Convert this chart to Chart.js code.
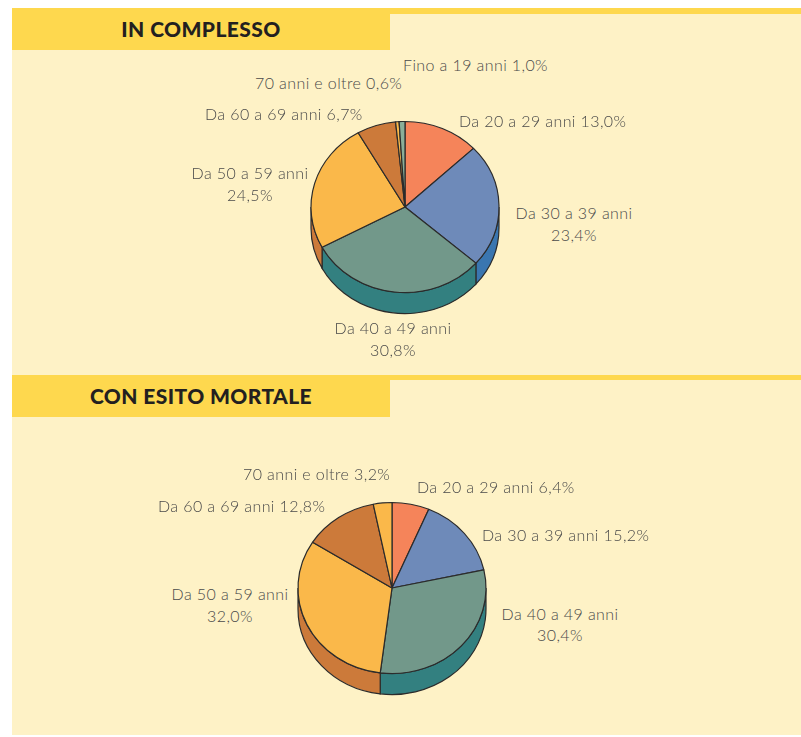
<!DOCTYPE html>
<html>
<head>
<meta charset="utf-8">
<script src="https://cdn.jsdelivr.net/npm/chart.js@4/dist/chart.umd.min.js"></script>
<style>
body{margin:0;width:801px;height:737px;position:relative;background:#fff;font-family:Lato,sans-serif;overflow:hidden}
.panel{position:absolute;left:12px;width:789px;background:#fef2c6}
.stripe{position:absolute;left:12px;width:789px;background:#fed84e}
.head{position:absolute;left:12px;width:378px;height:42px;background:#fed84e;font-weight:900;font-size:21px;letter-spacing:0.4px;color:#231f20;text-align:center;line-height:42px}
.lbl{position:absolute;font-size:16px;letter-spacing:0.4px;font-weight:300;color:#4a4a4a;white-space:nowrap;line-height:21.5px}
.lbl.c{text-align:center;transform:translateX(-50%)}
canvas{position:absolute}
</style>
</head>
<body>
<div class="panel" style="top:8px;height:367px"></div>
<div class="stripe" style="top:8px;height:6px"></div>
<div class="head" style="top:8px">IN COMPLESSO</div>
<div class="panel" style="top:375px;height:360px"></div>
<div class="stripe" style="top:375px;height:5px"></div>
<div class="head" style="top:375px">CON ESITO MORTALE</div>
<canvas id="pie1" width="200" height="230" style="left:305px;top:107px"></canvas>
<canvas id="pie2" width="200" height="230" style="left:292px;top:488px"></canvas>
<script>
// dati
const categories1 = ['Da 20 a 29 anni', 'Da 30 a 39 anni', 'Da 40 a 49 anni', 'Da 50 a 59 anni', 'Da 60 a 69 anni', '70 anni e oltre', 'Fino a 19 anni'];
const values1 = [13.0, 23.4, 30.8, 24.5, 6.7, 0.6, 1.0];

const categories2 = ['Da 20 a 29 anni', 'Da 30 a 39 anni', 'Da 40 a 49 anni', 'Da 50 a 59 anni', 'Da 60 a 69 anni', '70 anni e oltre'];
const values2 = [6.4, 15.2, 30.4, 32.0, 12.8, 3.2];

// colori per fascia d'eta
const topColors = {
    'Fino a 19 anni': '#8aae98',
    'Da 20 a 29 anni': '#f5845a',
    'Da 30 a 39 anni': '#6e8ab9',
    'Da 40 a 49 anni': '#72988a',
    'Da 50 a 59 anni': '#fab84a',
    'Da 60 a 69 anni': '#cc7a3a',
    '70 anni e oltre': '#fab84a'
};
const sideColors = {
    'Fino a 19 anni': '#5f8a72',
    'Da 20 a 29 anni': '#c9603a',
    'Da 30 a 39 anni': '#3a76b0',
    'Da 40 a 49 anni': '#338080',
    'Da 50 a 59 anni': '#cc7a3a',
    'Da 60 a 69 anni': '#9c5a28',
    '70 anni e oltre': '#cc7a3a'
};

// posizione etichette: [x, y centro maiuscole, allineamento, righe]
const labelPos1 = [
    [459, 120.5, 'l', 1],
    [574, 213, 'c', 2],
    [393, 328, 'c', 2],
    [250, 173, 'c', 2],
    [205, 113.5, 'l', 1],
    [255, 83, 'l', 1],
    [403, 64.5, 'l', 1]
];
const labelPos2 = [
    [417, 487, 'l', 1],
    [482, 535, 'l', 1],
    [560, 613.5, 'c', 2],
    [230, 594, 'c', 2],
    [158, 505.5, 'l', 1],
    [243, 474, 'l', 1]
];

function fmt(v) {
    return v.toFixed(1).replace('.', ',') + '%';
}

function addLabels(categories, values, pos) {
    categories.forEach((cat, i) => {
        const [x, y, align, lines] = pos[i];
        const el = document.createElement('div');
        el.className = 'lbl' + (align === 'c' ? ' c' : '');
        el.style.left = x + 'px';
        el.style.top = (y - 11) + 'px';
        if (lines === 2) {
            el.innerHTML = cat + '<br>' + fmt(values[i]);
        } else {
            el.textContent = cat + ' ' + fmt(values[i]);
        }
        document.body.appendChild(el);
    });
}

// torta "3D": bordo laterale + faccia superiore schiacciata
const pie3d = {
    id: 'pie3d',
    beforeDatasetsDraw(chart, args, opts) {
        const ctx = chart.ctx;
        const meta = chart.getDatasetMeta(0);
        const k = opts.squash, d = opts.depth;
        ctx.save();
        ctx.lineWidth = 1.2;
        ctx.strokeStyle = '#2b2b2b';
        meta.data.forEach((arc, i) => {
            const p = arc.getProps(['x', 'y', 'startAngle', 'endAngle', 'outerRadius']);
            const a0 = Math.max(p.startAngle, 0);
            const a1 = Math.min(p.endAngle, Math.PI);
            if (a1 <= a0) return;
            const rx = p.outerRadius, ry = rx * k;
            ctx.beginPath();
            ctx.ellipse(p.x, p.y, rx, ry, 0, a0, a1);
            ctx.ellipse(p.x, p.y + d, rx, ry, 0, a1, a0, true);
            ctx.closePath();
            ctx.fillStyle = opts.sideColors[i];
            ctx.fill();
            ctx.stroke();
        });
        ctx.restore();
        const c = meta.data[0];
        ctx.save();
        ctx.translate(c.x, c.y);
        ctx.scale(1, k);
        ctx.translate(-c.x, -c.y);
    },
    afterDatasetsDraw(chart) {
        chart.ctx.restore();
    }
};

function makePie(id, categories, values) {
    const ctx = document.getElementById(id).getContext('2d');
    return new Chart(ctx, {
        type: 'pie',
        data: {
            labels: categories,
            datasets: [{
                data: values,
                backgroundColor: categories.map((c) => topColors[c]),
                borderColor: '#2b2b2b',
                borderWidth: 1.2
            }]
        },
        options: {
            responsive: false,
            animation: false,
            radius: 94,
            layout: { padding: { left: 3, right: 3, top: 3, bottom: 33 } },
            plugins: {
                legend: { display: false },
                tooltip: { enabled: false },
                pie3d: {
                    squash: 0.91,
                    depth: 21,
                    sideColors: categories.map((c) => sideColors[c])
                }
            }
        },
        plugins: [pie3d]
    });
}

makePie('pie1', categories1, values1);
makePie('pie2', categories2, values2);
addLabels(categories1, values1, labelPos1);
addLabels(categories2, values2, labelPos2);
</script>
</body>
</html>
